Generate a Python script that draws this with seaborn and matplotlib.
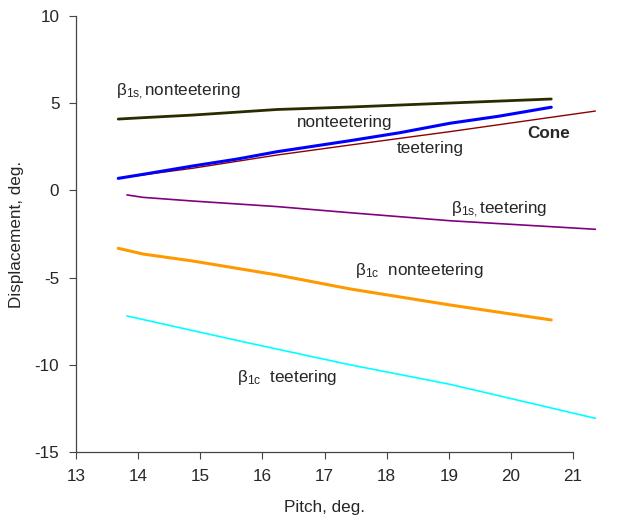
import matplotlib
matplotlib.use("Agg")
import matplotlib.pyplot as plt
import pandas as pd
import seaborn as sns

# Data
b1s_non_x = [13.68, 14.08, 14.88, 16.24, 17.41, 19.02, 20.65]
b1s_non_y = [4.09, 4.17, 4.32, 4.64, 4.78, 5.01, 5.24]

non_x = [13.68, 14.08, 14.88, 15.6, 16.24, 17.41, 18.2, 19.02, 19.8, 20.65]
non_y = [0.69, 0.92, 1.40, 1.80, 2.22, 2.85, 3.30, 3.85, 4.25, 4.77]

teet_x = [13.68, 14.88, 16.24, 17.41, 19.02, 21.36]
teet_y = [0.70, 1.27, 2.03, 2.60, 3.37, 4.55]

b1s_teet_x = [13.82, 14.08, 14.88, 16.24, 17.41, 19.02, 21.36]
b1s_teet_y = [-0.26, -0.40, -0.61, -0.93, -1.28, -1.74, -2.23]

b1c_non_x = [13.68, 14.08, 14.88, 16.24, 17.41, 19.02, 20.65]
b1c_non_y = [-3.32, -3.65, -4.05, -4.85, -5.65, -6.57, -7.43]

b1c_teet_x = [13.82, 15.69, 17.41, 19.02, 21.36]
b1c_teet_y = [-7.20, -8.68, -10.00, -11.12, -13.07]

x_ticks = [13, 14, 15, 16, 17, 18, 19, 20, 21]
y_ticks = [-15, -10, -5, 0, 5, 10]

sns.set_style("ticks")
plt.rcParams["font.family"] = ["Liberation Sans", "DejaVu Sans"]
plt.rcParams["mathtext.fontset"] = "custom"
plt.rcParams["mathtext.rm"] = "Liberation Sans"
plt.rcParams["mathtext.it"] = "Liberation Sans"
plt.rcParams["axes.unicode_minus"] = False

fig = plt.figure(figsize=(6.27, 5.23), dpi=100)
ax = fig.add_axes([0.1212, 0.1358, 0.7927, 0.8336])

series = [
    (b1s_non_x, b1s_non_y, "#2b2b00", 2.0),
    (teet_x, teet_y, "#8b0000", 1.0),
    (non_x, non_y, "#0000ff", 2.2),
    (b1s_teet_x, b1s_teet_y, "#800080", 1.2),
    (b1c_non_x, b1c_non_y, "#ff9900", 2.2),
    (b1c_teet_x, b1c_teet_y, "#00ffff", 1.2),
]
for xs, ys, color, lw in series:
    d = pd.DataFrame({"x": xs, "y": ys})
    sns.lineplot(data=d, x="x", y="y", ax=ax, color=color, linewidth=lw,
                 clip_on=False, sort=False)

fs = 12.3
ax.text(13.64, 5.64, r"β$_{\mathrm{1s,}}$nonteetering", fontsize=fs, va="center")
ax.text(16.55, 3.92, "nonteetering", fontsize=fs, va="center")
ax.text(18.17, 2.43, "teetering", fontsize=fs, va="center")
ax.text(20.26, 3.28, "Cone", fontsize=fs, va="center", fontweight="bold")
ax.text(19.03, -1.12, r"β$_{\mathrm{1s,}}$teetering", fontsize=fs, va="center")
ax.text(17.49, -4.62, r"β$_{\mathrm{1c}}$  nonteetering", fontsize=fs, va="center")
ax.text(15.59, -10.75, r"β$_{\mathrm{1c}}$  teetering", fontsize=fs, va="center")

ax.set_xlim(13, 21)
ax.set_ylim(-15, 10)
ax.set_xticks(x_ticks)
ax.set_yticks(y_ticks)
ax.tick_params(labelsize=fs, length=5, width=0.8, color="#444444", pad=7)
for side in ["left", "bottom"]:
    ax.spines[side].set_color("#444444")
    ax.spines[side].set_linewidth(0.9)
sns.despine(ax=ax)

ax.set_xlabel("Pitch, deg.", fontsize=fs, labelpad=12)
ax.set_ylabel("Displacement, deg.", fontsize=fs, labelpad=8)

fig.savefig("out.png", dpi=100)
